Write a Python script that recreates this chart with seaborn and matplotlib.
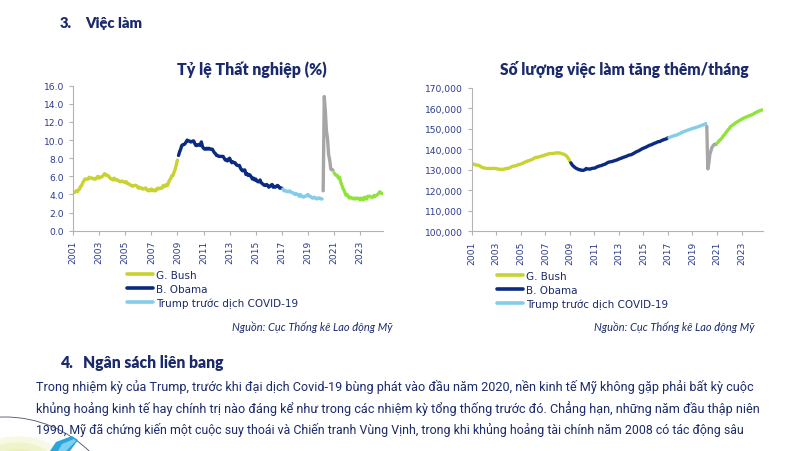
import numpy as np
import pandas as pd
import seaborn as sns
import matplotlib.pyplot as plt
from matplotlib.lines import Line2D
from matplotlib.patches import Circle, Ellipse, Polygon
from matplotlib.ticker import FuncFormatter

sns.set_style('white')
plt.rcParams['font.family'] = ['DejaVu Sans']

# Monthly unemployment rate (%), Jan 2001 - Sep 2024
unemployment_rate = [
    4.2, 4.2, 4.3, 4.4, 4.3, 4.5, 4.6, 4.9, 5.0, 5.3, 5.5, 5.7,
    5.7, 5.7, 5.7, 5.9, 5.8, 5.8, 5.8, 5.7, 5.7, 5.7, 5.9, 6.0,
    5.8, 5.9, 5.9, 6.0, 6.1, 6.3, 6.2, 6.1, 6.1, 6.0, 5.8, 5.7,
    5.7, 5.6, 5.8, 5.6, 5.6, 5.6, 5.5, 5.4, 5.4, 5.5, 5.4, 5.4,
    5.3, 5.4, 5.2, 5.2, 5.1, 5.0, 5.0, 4.9, 5.0, 5.0, 5.0, 4.9,
    4.7, 4.8, 4.7, 4.7, 4.6, 4.6, 4.7, 4.7, 4.5, 4.4, 4.5, 4.4,
    4.6, 4.5, 4.4, 4.5, 4.4, 4.6, 4.7, 4.6, 4.7, 4.7, 4.7, 5.0,
    5.0, 4.9, 5.1, 5.0, 5.4, 5.6, 5.8, 6.1, 6.1, 6.5, 6.8, 7.3,
    7.8, 8.3, 8.7, 9.0, 9.4, 9.5, 9.5, 9.6, 9.8, 10.0, 9.9, 9.9,
    9.8, 9.8, 9.9, 9.9, 9.6, 9.4, 9.4, 9.5, 9.5, 9.4, 9.8, 9.3,
    9.1, 9.0, 9.0, 9.1, 9.0, 9.1, 9.0, 9.0, 9.0, 8.8, 8.6, 8.5,
    8.3, 8.3, 8.2, 8.2, 8.2, 8.2, 8.2, 8.0, 7.8, 7.8, 7.7, 7.9,
    8.0, 7.7, 7.5, 7.6, 7.5, 7.5, 7.3, 7.2, 7.2, 7.2, 6.9, 6.7,
    6.6, 6.7, 6.7, 6.2, 6.3, 6.1, 6.2, 6.1, 5.9, 5.7, 5.8, 5.6,
    5.7, 5.5, 5.4, 5.4, 5.6, 5.3, 5.2, 5.1, 5.0, 5.0, 5.1, 5.0,
    4.8, 4.9, 5.0, 5.1, 4.8, 4.9, 4.8, 4.9, 5.0, 4.9, 4.7, 4.7,
    4.7, 4.6, 4.4, 4.4, 4.4, 4.3, 4.3, 4.4, 4.3, 4.2, 4.2, 4.1,
    4.0, 4.1, 4.0, 4.0, 3.8, 4.0, 3.8, 3.8, 3.7, 3.8, 3.8, 3.9,
    4.0, 3.8, 3.8, 3.7, 3.6, 3.6, 3.7, 3.6, 3.5, 3.6, 3.6, 3.6,
    3.5, 3.5, 4.4, 14.8, 13.2, 11.0, 10.2, 8.4, 7.8, 6.8, 6.7, 6.7,
    6.4, 6.2, 6.1, 6.1, 5.8, 5.9, 5.4, 5.1, 4.7, 4.5, 4.2, 3.9,
    4.0, 3.8, 3.6, 3.7, 3.6, 3.6, 3.5, 3.6, 3.5, 3.6, 3.6, 3.5,
    3.4, 3.6, 3.5, 3.4, 3.7, 3.6, 3.5, 3.8, 3.8, 3.8, 3.7, 3.7,
    3.7, 3.9, 3.8, 3.9, 4.0, 4.1, 4.3, 4.2, 4.1,
]

# Monthly nonfarm payrolls (thousands), Jan 2001 - Sep 2024
payrolls = [
    132698, 132789, 132747, 132463, 132405, 132272, 132236, 132078, 131834, 131509, 131194, 131018,
    130890, 130754, 130726, 130643, 130661, 130704, 130608, 130612, 130552, 130678, 130700, 130540,
    130640, 130485, 130272, 130247, 130224, 130219, 130247, 130232, 130342, 130542, 130561, 130666,
    130795, 130848, 131180, 131430, 131700, 131770, 131810, 131940, 132090, 132440, 132500, 132630,
    132770, 133010, 133130, 133500, 133670, 133920, 134130, 134350, 134410, 134520, 134860, 135010,
    135290, 135600, 135890, 136060, 136080, 136140, 136330, 136500, 136660, 136670, 136880, 137050,
    137290, 137380, 137610, 137680, 137830, 137910, 137910, 137900, 137970, 138040, 138150, 138240,
    138250, 138180, 138220, 138020, 137890, 137720, 137550, 137400, 137040, 136590, 135870, 135210,
    134080, 133390, 132630, 131940, 131590, 131080, 130760, 130530, 130280, 130020, 130030, 129760,
    129760, 129690, 129860, 130110, 130630, 130440, 130340, 130360, 130300, 130570, 130690, 130770,
    130770, 130970, 131210, 131530, 131640, 131870, 131960, 132080, 132300, 132520, 132650, 132830,
    133190, 133470, 133710, 133800, 133900, 133970, 134140, 134290, 134480, 134600, 134770, 134990,
    135180, 135450, 135550, 135760, 135990, 136170, 136290, 136520, 136700, 136940, 137140, 137240,
    137350, 137580, 137850, 138160, 138440, 138740, 138970, 139150, 139420, 139720, 140030, 140290,
    140470, 140760, 140880, 141140, 141460, 141640, 141960, 142080, 142190, 142490, 142710, 142970,
    143100, 143340, 143600, 143720, 143720, 144020, 144290, 144470, 144710, 144830, 144990, 145240,
    145600, 145730, 145850, 146050, 146230, 146440, 146620, 146790, 146810, 147050, 147330, 147510,
    147670, 148080, 148270, 148450, 148700, 148900, 149020, 149270, 149380, 149610, 149730, 149920,
    150210, 150220, 150380, 150620, 150690, 150880, 151050, 151260, 151440, 151600, 151860, 151990,
    152210, 152520, 151090, 130420, 133030, 137630, 139050, 140860, 141560, 142240, 142500, 142230,
    142900, 143400, 144200, 144500, 145000, 145600, 146400, 147000, 147500, 148300, 148900, 149600,
    150000, 150900, 151300, 151600, 152000, 152300, 152800, 153100, 153400, 153700, 154000, 154300,
    154600, 154900, 155100, 155400, 155600, 155800, 156000, 156200, 156400, 156600, 156800, 157000,
    157300, 157600, 157900, 158100, 158400, 158600, 158800, 159000, 159200,
]

term_names = ['G. Bush', 'B. Obama', 'Trump trước dịch COVID-19', 'COVID-19', 'J. Biden']
term_starts = ['2001-01', '2009-02', '2017-02', '2020-03', '2021-01']
term_colors = ['#c8d230', '#0b2a82', '#84cdea', '#a6a6a6', '#8fe33a']
legend_terms = term_names[:3]
year_ticks = list(range(2001, 2024, 2))

NAVY = '#1b2a6c'
TICK_BLUE = '#2b3a8c'
AXIS_GREY = '#b3b3b3'

months = pd.period_range('2001-01', periods=len(unemployment_rate), freq='M')
t = months.year + (months.month - 1) / 12
term = pd.Series(pd.NA, index=range(len(months)), dtype=object)
for name, start in zip(term_names, term_starts):
    term[months >= pd.Period(start, freq='M')] = name
palette = dict(zip(term_names, term_colors))

W, H = 788, 452
fig = plt.figure(figsize=(W / 100, H / 100), dpi=100)
renderer = fig.canvas.get_renderer()


def fx(px):
    return px / W


def fy(py):
    return 1 - py / H


def fit_text(x, y, s, width_px, size=10, **kw):
    # shrink/grow the font until the string spans the measured width
    txt = fig.text(fx(x), fy(y), s, fontsize=size, **kw)
    w = txt.get_window_extent(renderer).width
    txt.set_fontsize(size * width_px / w)
    return txt


def plot_panel(rect, values, ylim, yticks, fmt, legend_anchor):
    ax = fig.add_axes(rect)
    df = pd.DataFrame({'t': t, 'value': values, 'term': term})
    sns.lineplot(data=df, x='t', y='value', hue='term', hue_order=term_names,
                 palette=palette, linewidth=2.4, legend=False, ax=ax)
    ax.set_xlim(2001, 2024.75)
    ax.set_ylim(*ylim)
    ax.set_yticks(yticks)
    ax.yaxis.set_major_formatter(FuncFormatter(fmt))
    ax.set_xticks(year_ticks)
    ax.set_xticklabels([str(y) for y in year_ticks], rotation=90)
    ax.set_xlabel('')
    ax.set_ylabel('')
    for side in ['top', 'right']:
        ax.spines[side].set_visible(False)
    for side in ['left', 'bottom']:
        ax.spines[side].set_color(AXIS_GREY)
        ax.spines[side].set_linewidth(0.8)
    ax.tick_params(axis='both', which='major', direction='out', length=3, width=0.8,
                   color=AXIS_GREY, labelcolor=TICK_BLUE, labelsize=6.6, pad=3.5,
                   left=True, bottom=True)
    ax.patch.set_alpha(0)

    handles = [Line2D([0], [0], color=palette[n], lw=2.6) for n in legend_terms]
    leg = ax.legend(handles, legend_terms, loc='upper left', bbox_to_anchor=legend_anchor,
                    bbox_transform=fig.transFigure, frameon=False, fontsize=7.5,
                    handlelength=2.5, handletextpad=0.3, labelspacing=0.35,
                    borderpad=0, borderaxespad=0)
    for txt in leg.get_texts():
        txt.set_color(NAVY)
    return ax


plot_panel([fx(73), fy(231.7), fx(383) - fx(73), fy(86.7) - fy(231.7)],
           unemployment_rate, (0, 16), np.arange(0, 16.1, 2),
           lambda v, p: f'{v:.1f}', (fx(127), fy(271)))

plot_panel([fx(471.7), fy(232.3), fx(763) - fx(471.7), fy(88.7) - fy(232.3)],
           payrolls, (100000, 170000), np.arange(100000, 170001, 10000),
           lambda v, p: f'{v:,.0f}', (fx(497), fy(272)))

# chart titles
fit_text(177, 75, 'Tỷ lệ Thất nghiệp (%)', 150, family='Lato', weight='heavy', color=NAVY)
fit_text(500, 75, 'Số lượng việc làm tăng thêm/tháng', 248, family='Lato', weight='heavy', color=NAVY)

# source notes
for right in [393, 755]:
    src = fit_text(0, 331, 'Nguồn: Cục Thống kê Lao động Mỹ', 160, family='Lato',
                   style='italic', color=NAVY)
    src.set_x(fx(right))
    src.set_ha('right')

# section headings
h3 = fit_text(85, 28, 'Việc làm', 57, family='Lato', weight='heavy', color=NAVY)
fig.text(fx(60), fy(28), '3.', fontsize=h3.get_fontsize(), family='Lato', weight='heavy', color=NAVY)
h4 = fit_text(83, 368, 'Ngân sách liên bang', 140, family='Lato', weight='heavy', color=NAVY)
fig.text(fx(61), fy(368), '4.', fontsize=h4.get_fontsize(), family='Lato', weight='heavy', color=NAVY)

paragraph = [
    'Trong nhiệm kỳ của Trump, trước khi đại dịch Covid-19 bùng phát vào đầu năm 2020, nền kinh tế Mỹ không gặp phải bất kỳ cuộc',
    'khủng hoảng kinh tế hay chính trị nào đáng kể như trong các nhiệm kỳ tổng thống trước đó. Chẳng hạn, những năm đầu thập niên',
    '1990, Mỹ đã chứng kiến một cuộc suy thoái và Chiến tranh Vùng Vịnh, trong khi khủng hoảng tài chính năm 2008 có tác động sâu',
]
line_baselines = [391, 413, 434]
line_widths = [719, 719, 712]
for line, base, width in zip(paragraph, line_baselines, line_widths):
    fit_text(36, base, line, width, family='Roboto', color=NAVY)

# decorative corner shapes
deco = fig.add_axes([0, 0, 1, 1], zorder=-1)
deco.set_xlim(0, W)
deco.set_ylim(H, 0)
deco.axis('off')
for r, a in [(45, 0.3), (34, 0.4), (22, 0.5)]:
    deco.add_patch(Ellipse((18, 462), 2.0 * r, 1.1 * r, color='#e6eea6', alpha=a, lw=0))
deco.add_patch(Circle((5, 539), 121, fill=False, ec='#4a4f6a', lw=0.6))
deco.add_patch(Polygon([(50, 452), (56, 443), (72, 437), (78, 441), (70, 452)],
                       closed=True, color='#2aa6dc', lw=0))
deco.add_patch(Polygon([(58, 452), (62, 445), (74, 440), (76, 442), (66, 452)],
                       closed=True, color='#7fd0f0', lw=0))

fig.savefig('out.png', dpi=100)
